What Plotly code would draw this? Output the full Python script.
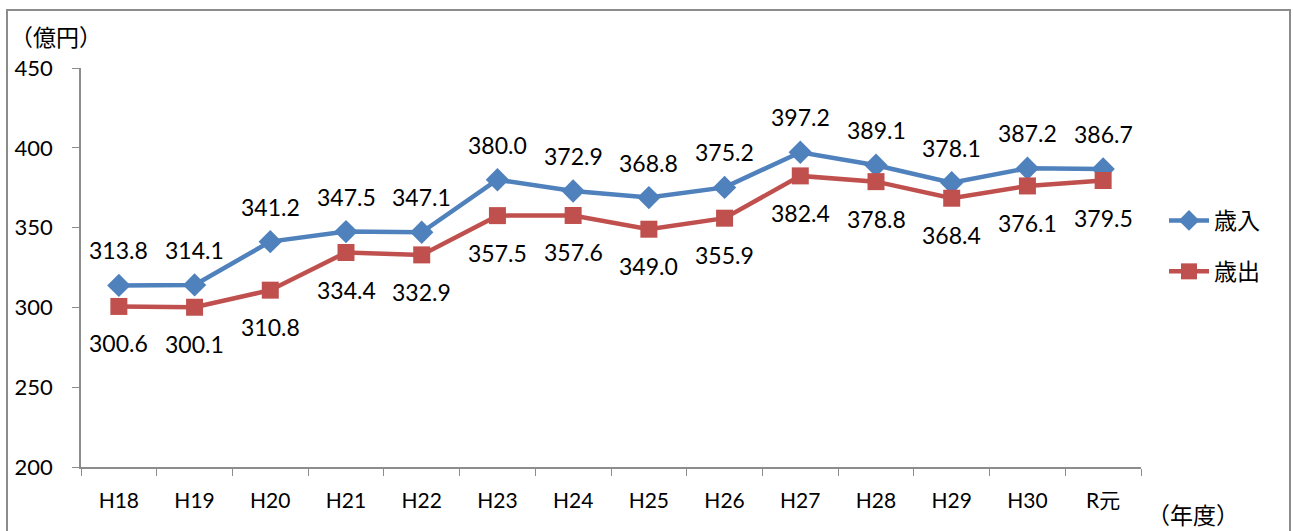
"""Revenue / expenditure trend (億円), H18 to R元."""

import plotly.graph_objects as go

YEARS = ["H18", "H19", "H20", "H21", "H22", "H23", "H24", "H25", "H26", "H27", "H28", "H29", "H30", "R元"]
REVENUE = [313.8, 314.1, 341.2, 347.5, 347.1, 380.0, 372.9, 368.8, 375.2, 397.2, 389.1, 378.1, 387.2, 386.7]
EXPENSE = [300.6, 300.1, 310.8, 334.4, 332.9, 357.5, 357.6, 349.0, 355.9, 382.4, 378.8, 368.4, 376.1, 379.5]

BLUE = "#4F81BD"
RED = "#C0504D"
FONT = "Lato, 'Noto Sans CJK JP', sans-serif"
FS = 22
W, H = 1293, 531
L, R, T, B = 81, 152, 68, 64
PW, PH = W - L - R, H - T - B


def px_x(x):
    return (x - L) / PW


def px_y(y):
    return (H - B - y) / PH


fig = go.Figure()
fig.add_trace(go.Scatter(
    x=YEARS, y=REVENUE, name="歳入", mode="lines+markers", legendgroup="a",
    line=dict(color=BLUE, width=4.5),
    marker=dict(symbol="diamond", size=18, color=BLUE),
))
fig.add_trace(go.Scatter(
    x=YEARS, y=EXPENSE, name="歳出", mode="lines+markers", legendgroup="b",
    line=dict(color=RED, width=4.5),
    marker=dict(symbol="square", size=17, color=RED),
))

ann = []
for yr, v in zip(YEARS, REVENUE):
    ann.append(dict(x=yr, y=v, text=f"{v:.1f}", showarrow=False, yshift=35,
                    font=dict(size=FS + 1, color="black", family=FONT)))
for yr, v in zip(YEARS, EXPENSE):
    ann.append(dict(x=yr, y=v, text=f"{v:.1f}", showarrow=False, yshift=-37,
                    font=dict(size=FS + 1, color="black", family=FONT)))
ann.append(dict(xref="paper", yref="paper", x=px_x(8), y=px_y(37), xanchor="left", yanchor="middle",
                text="（億円）", showarrow=False, font=dict(size=FS + 1, color="black", family=FONT)))
ann.append(dict(xref="paper", yref="paper", x=px_x(1145), y=px_y(515), xanchor="left", yanchor="middle",
                text="（年度）", showarrow=False, font=dict(size=FS + 1, color="black", family=FONT)))

fig.update_layout(
    width=W, height=H,
    margin=dict(l=L, r=R, t=T, b=B),
    paper_bgcolor="white", plot_bgcolor="white",
    font=dict(family=FONT, size=FS, color="black"),
    annotations=ann,
    legend=dict(x=px_x(1164), y=px_y(246), xanchor="left", yanchor="middle",
                tracegroupgap=18, font=dict(size=FS + 1), bgcolor="rgba(0,0,0,0)",
                itemwidth=40),
    shapes=[dict(type="rect", xref="paper", yref="paper",
                 x0=px_x(7), x1=px_x(1290), y0=px_y(545), y1=px_y(10),
                 line=dict(color="#8c8c8c", width=2), layer="below")],
)
fig.update_xaxes(
    type="category", range=[-0.5, len(YEARS) - 0.5], tickson="boundaries",
    ticks="outside", ticklen=7, tickcolor="#8c8c8c", showline=True,
    linecolor="#8c8c8c", linewidth=1.5, showgrid=False, ticklabelstandoff=14,
    tickfont=dict(size=FS - 1),
)
fig.update_yaxes(
    range=[200, 450], tickvals=[200, 250, 300, 350, 400, 450], ticks="outside",
    ticklen=7, tickcolor="#8c8c8c", showline=True, linecolor="#8c8c8c", linewidth=1.5,
    showgrid=False, zeroline=False, ticklabelstandoff=15, tickfont=dict(size=FS),
)

# drop the default 8px page margin so the figure sits at the window's corner
fig.write_html("out.html", config={"displayModeBar": False},
               post_script="document.body.style.margin='0';")
